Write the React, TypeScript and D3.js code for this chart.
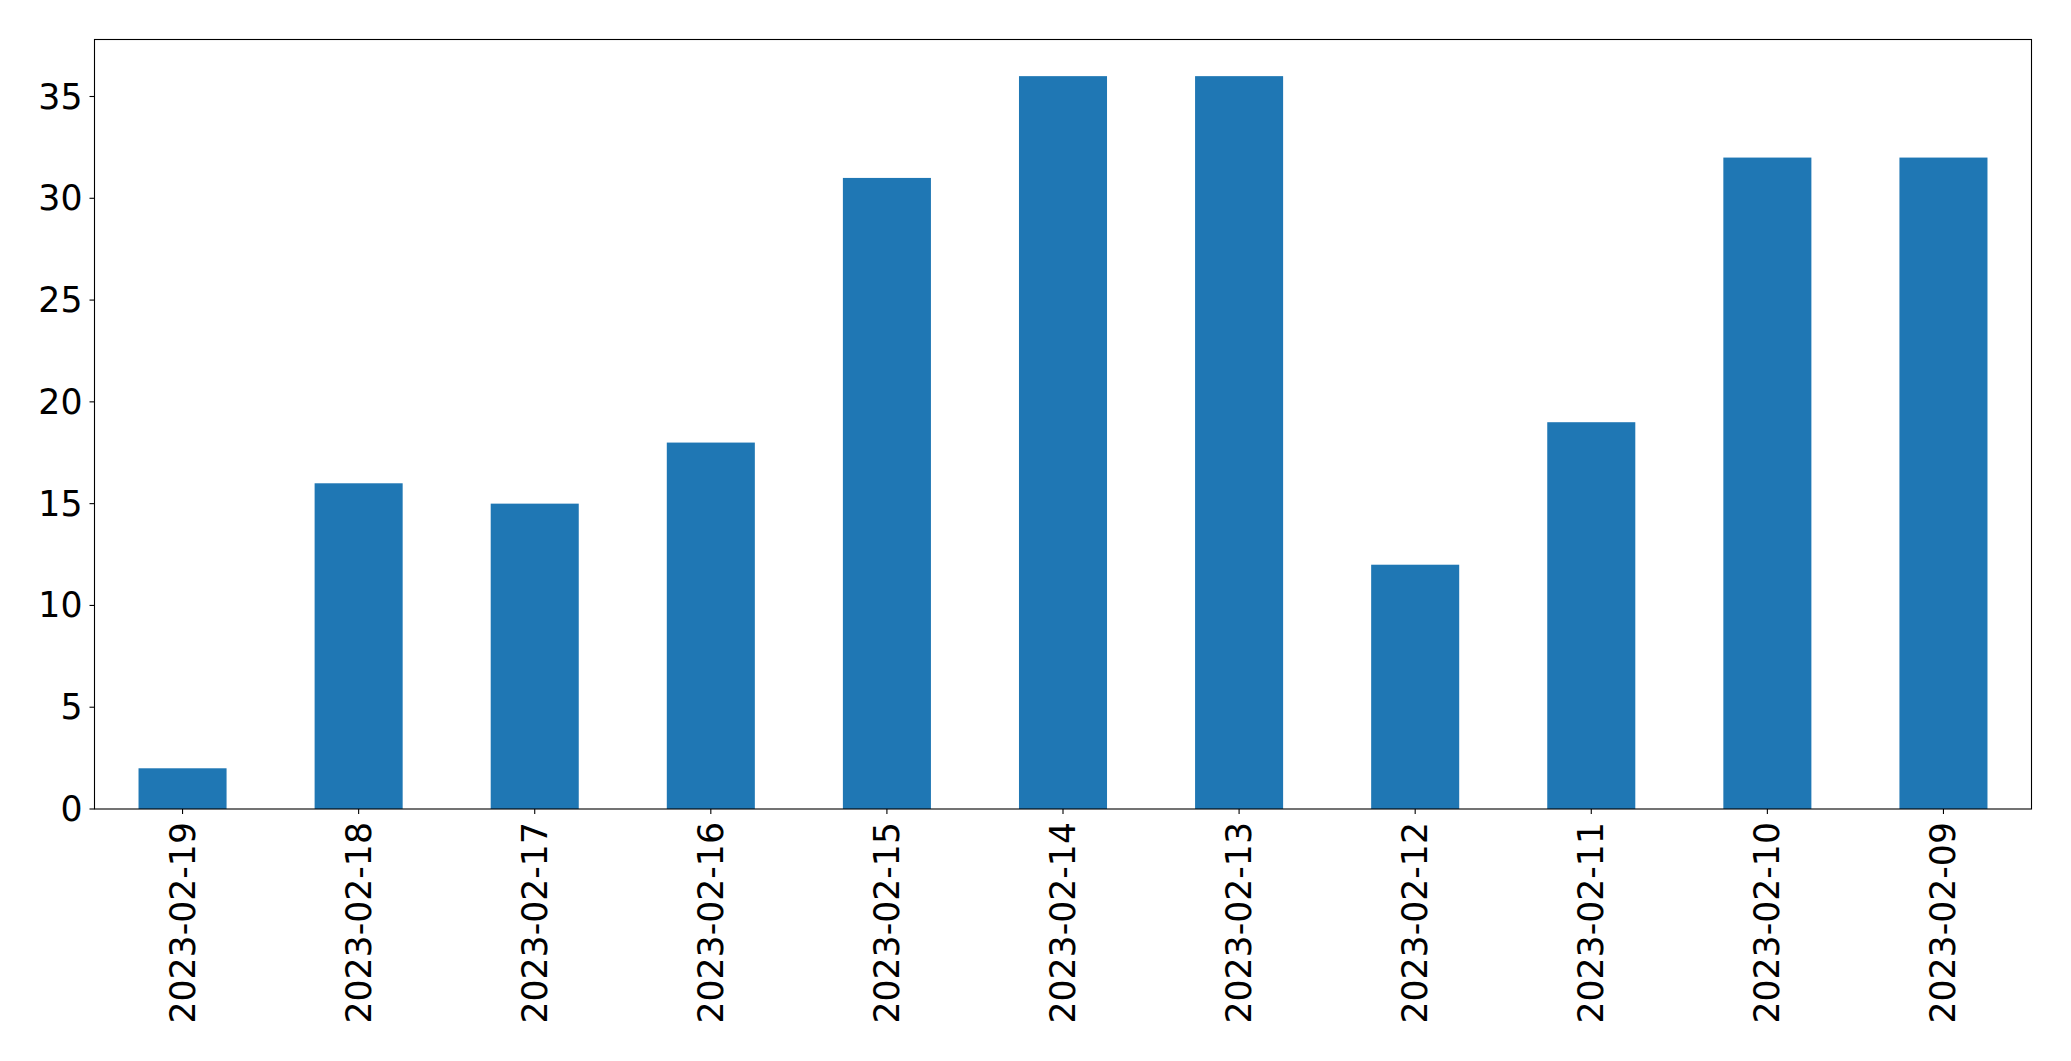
import React from "react";
import * as d3 from "d3";

const categories = ["2023-02-19","2023-02-18","2023-02-17","2023-02-16","2023-02-15","2023-02-14","2023-02-13","2023-02-12","2023-02-11","2023-02-10","2023-02-09"];
const values = [2, 16, 15, 18, 31, 36, 36, 12, 19, 32, 32];
const yTicks = [0, 5, 10, 15, 20, 25, 30, 35];

const W = 2071, H = 1061;
const M = { left: 94.5, right: 2031.5, top: 39.5, bottom: 809 };
const FONT = "'DejaVu Sans', sans-serif";
const FS = 34.7;

export default function App() {
  const x = d3.scaleBand<string>().domain(categories).range([M.left, M.right]).paddingInner(0.5).paddingOuter(0.25);
  const yMax = d3.max(values)! * 1.05;
  const y = d3.scaleLinear().domain([0, yMax]).range([M.bottom, M.top]);
  return (
    <svg width={W} height={H} style={{ position: "absolute", left: 0, top: 0, background: "#fff" }}>
      <rect x={0} y={0} width={W} height={H} fill="#fff" />
      {categories.map((c, i) => (
        <rect key={c} x={x(c)} y={y(values[i])} width={x.bandwidth()} height={y(0) - y(values[i])} fill="#1f77b4" />
      ))}
      <rect x={M.left} y={M.top} width={M.right - M.left} height={M.bottom - M.top} fill="none" stroke="#000" strokeWidth={1.1} />
      {yTicks.map((t) => (
        <g key={t}>
          <line x1={M.left - 5} x2={M.left} y1={y(t)} y2={y(t)} stroke="#000" strokeWidth={1.1} />
          <text x={M.left - 12} y={y(t)} textAnchor="end" dominantBaseline="central" fontFamily={FONT} fontSize={FS} fill="#000">{t}</text>
        </g>
      ))}
      {categories.map((c) => {
        const cx = x(c)! + x.bandwidth() / 2;
        return (
          <g key={c}>
            <line x1={cx} x2={cx} y1={M.bottom} y2={M.bottom + 5} stroke="#000" strokeWidth={1.1} />
            <text transform={`translate(${cx},${M.bottom + 13}) rotate(-90)`} textAnchor="end" dominantBaseline="central" fontFamily={FONT} fontSize={FS} fill="#000">{c}</text>
          </g>
        );
      })}
    </svg>
  );
}
